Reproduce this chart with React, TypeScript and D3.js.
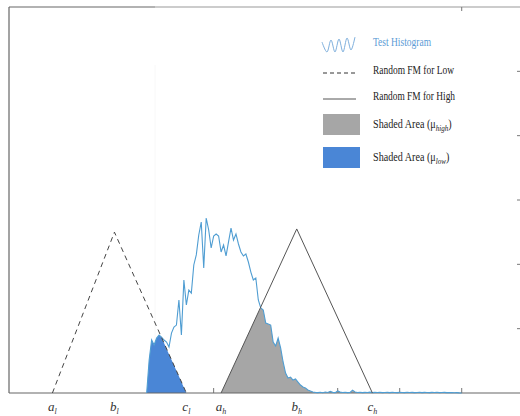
import React, { useRef, useEffect } from 'react';
import * as d3 from 'd3';

// histogram bins start at 96 and step by 2 (x units)
const histStart = 96;
const histStep = 2;
const histCounts = [
  0, 256, 412, 373, 427, 451, 435, 412, 396, 357,
  466, 513, 528, 723, 451, 878, 684, 800, 777, 995,
  1073, 1228, 1329, 972, 1360, 1267, 1127, 1220, 1236, 1220,
  1096, 1150, 1065, 1174, 1282, 1189, 1236, 1158, 1096, 1065,
  1080, 1018, 940, 878, 894, 723, 661, 645, 544, 536,
  528, 396, 365, 427, 350, 241, 155, 117, 124, 101,
  109, 85, 62, 47, 39, 23, 16, 8,
  5, 3, 6, 2, 8, 4, 12, 5, 3, 16,
  7, 4, 6, 3, 5, 22, 8, 4, 6, 3,
  5, 4, 7, 3, 5, 4, 6, 3, 4, 5,
  3, 6, 4, 3, 5, 4, 3, 6, 4, 5,
  3, 4, 6, 3, 5, 4, 3, 5, 4, 6,
  3, 4, 5, 3, 4, 3, 2, 3, 1, 0,
];

// triangular fuzzy membership functions [a, b, c] and peak height
const lowFM = [20, 70, 128];
const highFM = [156, 217, 278];
const lowPeak = 1250;
const highPeak = 1275;
const fmLabels = [
  { v: lowFM[0], base: 'a', sub: 'l' },
  { v: lowFM[1], base: 'b', sub: 'l' },
  { v: lowFM[2], base: 'c', sub: 'l' },
  { v: highFM[0], base: 'a', sub: 'h' },
  { v: highFM[1], base: 'b', sub: 'h' },
  { v: highFM[2], base: 'c', sub: 'h' },
];

const xTicks = [150, 200, 250, 300, 350];
const yTicks = [500, 1000, 1500, 2000, 2500];

const App = () => {
  const svgRef = useRef(null);

  useEffect(() => {
    const svg = d3.select(svgRef.current);
    svg.selectAll('*').remove();

    const width = 520;
    const left = 9;
    const top = 7;
    const bottom = 393;

    const x = d3.scaleLinear().domain([-15, 397]).range([left, width]);
    const y = d3.scaleLinear().domain([0, 3000]).range([bottom, top]);

    const hist = histCounts.map((c, i) => ({ u: histStart + i * histStep, c }));

    const tri = (fm, peak) => (u) => {
      if (u <= fm[0] || u >= fm[2]) return 0;
      if (u <= fm[1]) return (peak * (u - fm[0])) / (fm[1] - fm[0]);
      return (peak * (fm[2] - u)) / (fm[2] - fm[1]);
    };
    const lowF = tri(lowFM, lowPeak);
    const highF = tri(highFM, highPeak);

    // frame
    svg.append('line').attr('x1', left).attr('x2', 155).attr('y1', top).attr('y2', top)
      .attr('stroke', '#666').attr('stroke-width', 1.2);
    svg.append('line').attr('x1', 155).attr('x2', width).attr('y1', top).attr('y2', top)
      .attr('stroke', '#999').attr('stroke-width', 1.2);
    svg.append('line').attr('x1', left).attr('x2', left).attr('y1', top).attr('y2', bottom)
      .attr('stroke', '#666').attr('stroke-width', 1.2);
    svg.append('line').attr('x1', 155).attr('x2', 155).attr('y1', 65).attr('y2', bottom)
      .attr('stroke', '#f8f8f8').attr('stroke-width', 1);

    // ticks
    xTicks.forEach(t => {
      svg.append('line').attr('x1', x(t)).attr('x2', x(t)).attr('y1', bottom).attr('y2', bottom - 5)
        .attr('stroke', '#777');
    });
    svg.append('line').attr('x1', x(350)).attr('x2', x(350)).attr('y1', top).attr('y2', top + 4)
      .attr('stroke', '#777');
    yTicks.forEach(t => {
      svg.append('line').attr('x1', width - 3).attr('x2', width).attr('y1', y(t)).attr('y2', y(t))
        .attr('stroke', '#777');
    });

    // shaded areas = min(histogram, membership)
    const area = d3.area().x(d => x(d.u)).y0(y(0)).y1(d => y(d.c));
    const lowArea = hist.filter(d => d.u >= lowFM[0] && d.u <= lowFM[2])
      .map(d => ({ u: d.u, c: Math.min(d.c, lowF(d.u)) }));
    const highArea = hist.filter(d => d.u >= highFM[0] && d.u <= highFM[2])
      .map(d => ({ u: d.u, c: Math.min(d.c, highF(d.u)) }));
    svg.append('path').attr('d', area(lowArea)).attr('fill', '#4a86d6');
    svg.append('path').attr('d', area(highArea)).attr('fill', '#a6a6a6');

    // baseline
    svg.append('line').attr('x1', left).attr('x2', width).attr('y1', bottom).attr('y2', bottom)
      .attr('stroke', '#666').attr('stroke-width', 1.2);

    // histogram line
    const line = d3.line().x(d => x(d.u)).y(d => y(d.c));
    svg.append('path').attr('d', line(hist)).attr('fill', 'none')
      .attr('stroke', '#4f9dd2').attr('stroke-width', 1.1);

    // membership triangles
    const triPts = (fm, peak) => [
      { u: fm[0], c: 0 }, { u: fm[1], c: peak }, { u: fm[2], c: 0 },
    ];
    svg.append('path').attr('d', line(triPts(lowFM, lowPeak))).attr('fill', 'none')
      .attr('stroke', '#444').attr('stroke-width', 1).attr('stroke-dasharray', '5,4');
    svg.append('path').attr('d', line(triPts(highFM, highPeak))).attr('fill', 'none')
      .attr('stroke', '#555').attr('stroke-width', 1);

    // x labels
    fmLabels.forEach(l => {
      const t = svg.append('text').attr('x', x(l.v)).attr('y', 411)
        .attr('text-anchor', 'middle').attr('font-family', 'Liberation Serif')
        .attr('font-style', 'italic').attr('font-size', 13).attr('fill', '#333');
      t.append('tspan').text(l.base);
      t.append('tspan').attr('dy', 3).attr('font-size', 8).text(l.sub);
    });

    // legend
    const font = 'Liberation Serif';
    const lg = svg.append('g');
    const wave = d3.line().curve(d3.curveCardinal)([
      [322, 42], [327, 52], [331, 40], [335, 52], [339, 39], [343, 52], [347, 38], [351, 50], [355, 37],
    ]);
    lg.append('path').attr('d', wave).attr('fill', 'none').attr('stroke', '#7fb0dd').attr('stroke-width', 1);

    const label = (ty, txt, len, color) =>
      lg.append('text').attr('x', 373).attr('y', ty).attr('font-family', font).attr('font-size', 11.5)
        .attr('fill', color).attr('textLength', len).attr('lengthAdjust', 'spacingAndGlyphs').text(txt);

    label(46, 'Test Histogram', 58, '#5b9bd5');

    lg.append('line').attr('x1', 323).attr('x2', 356).attr('y1', 73).attr('y2', 73)
      .attr('stroke', '#333').attr('stroke-dasharray', '4,3');
    label(74, 'Random FM for Low', 81, '#222');

    lg.append('line').attr('x1', 323).attr('x2', 356).attr('y1', 99).attr('y2', 99)
      .attr('stroke', '#555');
    label(100, 'Random FM for High', 82, '#222');

    const shaded = [
      { y0: 114, color: '#a6a6a6', sub: 'high', ty: 128 },
      { y0: 147, color: '#4a86d6', sub: 'low', ty: 161 },
    ];
    shaded.forEach(s => {
      lg.append('rect').attr('x', 323).attr('y', s.y0).attr('width', 37).attr('height', 21)
        .attr('fill', s.color);
      const t = lg.append('g').attr('transform', `translate(373,${s.ty}) scale(0.88,1)`)
        .append('text').attr('font-family', font).attr('font-size', 11.5).attr('fill', '#222');
      t.append('tspan').text('Shaded Area (\u03bc');
      t.append('tspan').attr('dy', 3).attr('font-size', 8).attr('font-style', 'italic').text(s.sub);
      t.append('tspan').attr('dy', -3).text(')');
    });
  }, []);

  return (
    <svg ref={svgRef} width={520} height={416}
      style={{ position: 'absolute', left: 0, top: 0, background: '#fff' }} />
  );
};

export default App;
